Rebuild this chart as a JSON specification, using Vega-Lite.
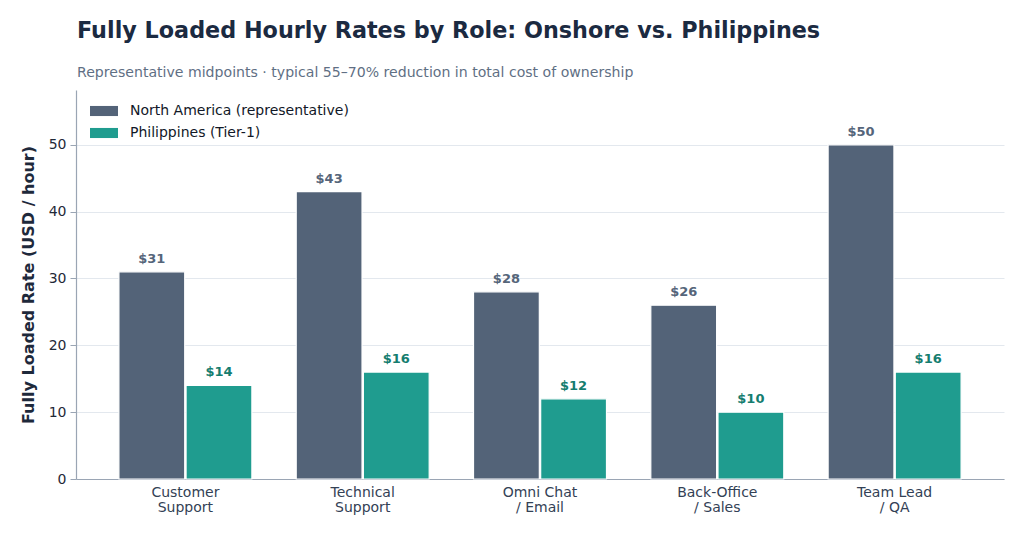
{
  "$schema": "https://vega.github.io/schema/vega-lite/v6.json",
  "width": 928,
  "height": 389,
  "autosize": {"type": "none"},
  "padding": {"left": 76, "top": 90, "right": 20, "bottom": 55},
  "background": "white",
  "config": {
    "font": "DejaVu Sans",
    "view": {"stroke": null}
  },
  "title": {
    "text": "Fully Loaded Hourly Rates by Role: Onshore vs. Philippines",
    "subtitle": "Representative midpoints · typical 55–70% reduction in total cost of ownership",
    "anchor": "start",
    "frame": "group",
    "font": "DejaVu Sans",
    "fontSize": 22.3,
    "fontWeight": "bold",
    "color": "#1b2a41",
    "subtitleFont": "DejaVu Sans",
    "subtitleFontSize": 14.1,
    "subtitleColor": "#5f6f84",
    "subtitlePadding": 24,
    "offset": 10,
    "dx": 1
  },
  "data": {
    "values": [
      {"role": "Customer|Support", "region": "North America (representative)", "rate": 31},
      {"role": "Customer|Support", "region": "Philippines (Tier-1)", "rate": 14},
      {"role": "Technical|Support", "region": "North America (representative)", "rate": 43},
      {"role": "Technical|Support", "region": "Philippines (Tier-1)", "rate": 16},
      {"role": "Omni Chat|/ Email", "region": "North America (representative)", "rate": 28},
      {"role": "Omni Chat|/ Email", "region": "Philippines (Tier-1)", "rate": 12},
      {"role": "Back-Office|/ Sales", "region": "North America (representative)", "rate": 26},
      {"role": "Back-Office|/ Sales", "region": "Philippines (Tier-1)", "rate": 10},
      {"role": "Team Lead|/ QA", "region": "North America (representative)", "rate": 50},
      {"role": "Team Lead|/ QA", "region": "Philippines (Tier-1)", "rate": 16}
    ]
  },
  "encoding": {
    "x": {
      "field": "role",
      "type": "nominal",
      "sort": null,
      "scale": {"paddingInner": 0.25, "paddingOuter": 0.242},
      "axis": {
        "title": null,
        "labelAngle": 0,
        "labelExpr": "split(datum.value, '|')",
        "labelFontSize": 14,
        "labelColor": "#334155",
        "labelPadding": 6,
        "labelLineHeight": 15.5,
        "ticks": false,
        "domainColor": "#9aa5b4",
        "domainWidth": 1.2,
        "grid": false
      }
    },
    "xOffset": {
      "field": "region",
      "type": "nominal",
      "sort": null,
      "scale": {"paddingInner": 0.02}
    },
    "y": {
      "field": "rate",
      "type": "quantitative",
      "scale": {"domain": [0, 58.2], "nice": false},
      "axis": {
        "title": "Fully Loaded Rate (USD / hour)",
        "titleFontSize": 16,
        "titleFontWeight": "bold",
        "titleColor": "#1e293b",
        "titlePadding": 12,
        "values": [0, 10, 20, 30, 40, 50],
        "labelFontSize": 14,
        "labelColor": "#1f2937",
        "labelPadding": 4,
        "tickSize": 6,
        "tickColor": "#9aa5b4",
        "domainColor": "#9aa5b4",
        "domainWidth": 1.2,
        "gridColor": "#e3e8ee",
        "gridWidth": 1
      }
    }
  },
  "layer": [
    {
      "mark": {"type": "bar", "stroke": "white", "strokeWidth": 1.2},
      "encoding": {
        "color": {
          "field": "region",
          "type": "nominal",
          "sort": null,
          "scale": {
            "domain": ["North America (representative)", "Philippines (Tier-1)"],
            "range": ["#536378", "#1f9c8f"]
          },
          "legend": {
            "title": null,
            "orient": "none",
            "legendX": 14,
            "legendY": 7,
            "symbolType": "M-1,-0.36H1V0.36H-1Z",
            "symbolSize": 784,
            "symbolStrokeWidth": 0,
            "labelFontSize": 14,
            "labelLimit": 0,
            "labelColor": "#111827",
            "labelOffset": 12,
            "rowPadding": 1
          }
        }
      }
    },
    {
      "mark": {"type": "text", "baseline": "bottom", "dy": -6, "fontSize": 13, "fontWeight": "bold"},
      "encoding": {
        "text": {"field": "rate", "type": "quantitative", "format": "$.0f"},
        "color": {
          "field": "region",
          "type": "nominal",
          "sort": null,
          "scale": {
            "domain": ["North America (representative)", "Philippines (Tier-1)"],
            "range": ["#55657a", "#157d6f"]
          },
          "legend": null
        }
      }
    }
  ],
  "resolve": {"scale": {"color": "independent"}}
}
